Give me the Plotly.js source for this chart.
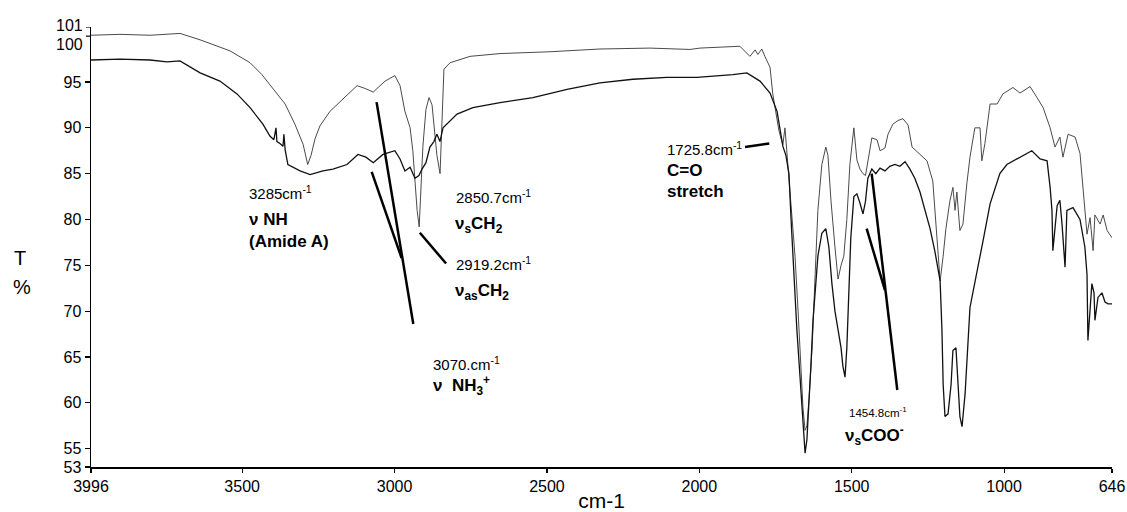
<!DOCTYPE html>
<html>
<head>
<meta charset="utf-8">
<script src="https://cdn.plot.ly/plotly-3.0.1.min.js"></script>
<style>
  html, body { margin: 0; padding: 0; background: #fff; }
  #chart { width: 1127px; height: 512px; }
</style>
</head>
<body>
<div id="chart"></div>
<script>
// FTIR transmittance spectra, wavenumber (cm-1) vs transmittance (%)
const wnUpper = [3996,3901,3802,3704,3638,3589,3540,3474,3435,3409,
  3359,3327,3300,3285,3274,3261,3245,3212,3163,3123,
  3097,3070,3054,3031,2999,2982,2966,2949,2940,2933,
  2926,2919.2,2913,2907,2897,2887,2877,2869,2861,2850.7,
  2844,2838,2818,2752,2654,2490,2326,2162,2031,1998,
  1932,1867,1834,1817,1808,1795,1785,1768,1759,1749,
  1739,1729,1725.8,1719,1709,1699,1686,1676,1666,1660,
  1653,1647,1640,1630,1620,1611,1598,1585,1578,1568,
  1555,1545,1535,1526,1516,1506,1493,1483,1473,1463,
  1454.8,1444,1434,1417,1407,1391,1381,1365,1348,1332,
  1315,1302,1289,1276,1253,1234,1220,1210,1200,1191,
  1178,1168,1161,1155,1145,1135,1122,1112,1096,1079,
  1073,1063,1046,1023,1004,971,948,915,892,872,
  849,833,817,807,790,767,751,741,728,718,
  708,702,685,675,662,646];
const tUpper = [100.1,100.2,100.1,100.3,99.6,99.0,98.4,97.1,95.8,94.7,
  92.6,90.4,88.2,86.0,87.0,88.8,90.2,91.8,93.3,94.6,
  94.3,93.9,94.4,95.1,95.7,94.6,91.8,90.0,87.5,84.0,
  81.0,79.2,83.0,88.0,92.0,93.3,92.5,89.5,87.0,85.0,
  92.0,96.4,97.1,97.8,98.1,98.3,98.6,98.7,98.55,98.7,
  98.8,98.9,97.8,98.5,98.0,98.6,97.8,96.6,93.7,91.8,
  89.7,88.5,88.2,90.0,86.0,82.0,76.0,70.0,64.0,59.5,
  57.0,57.5,60.5,66.0,74.0,81.0,86.0,87.9,87.0,82.0,
  77.0,73.5,75.0,76.0,80.0,86.0,90.0,86.5,85.5,85.0,
  84.8,87.0,88.9,88.7,87.5,87.8,89.3,90.4,90.8,91.0,
  90.3,87.9,87.5,87.2,86.4,84.2,78.0,73.3,76.0,79.0,
  82.0,83.5,81.0,83.0,78.8,79.5,84.0,86.8,90.0,90.0,
  86.4,88.3,92.6,92.6,93.7,94.4,93.8,94.5,93.3,92.2,
  90.0,87.9,89.0,86.8,89.3,89.0,87.2,83.5,78.4,80.2,
  76.6,80.5,79.5,80.5,78.8,78.0];

const wnLower = [3996,3901,3802,3747,3704,3638,3573,3517,3474,3432,
  3409,3396,3389,3386,3376,3366,3363,3359,3350,3327,
  3310,3277,3235,3202,3156,3120,3094,3070,3038,2999,
  2982,2966,2949,2933,2920,2910,2897,2884,2871,2861,
  2851,2841,2795,2743,2654,2546,2434,2326,2218,2106,
  2008,1890,1844,1801,1768,1745,1735,1726,1716,1706,
  1699,1690,1680,1670,1663,1657,1653,1647,1640,1634,
  1627,1620,1611,1598,1585,1575,1565,1555,1545,1535,
  1529,1522,1516,1509,1503,1493,1483,1473,1463,1454.8,
  1447,1434,1421,1407,1391,1375,1358,1342,1325,1309,
  1293,1276,1260,1243,1227,1217,1210,1204,1200,1194,
  1184,1174,1168,1158,1151,1145,1138,1128,1112,1089,
  1069,1046,1014,991,948,909,882,859,849,843,
  840,826,817,810,800,794,774,751,735,728,
  725,712,705,702,692,679,669,659,646];
const tLower = [97.4,97.5,97.4,97.2,97.3,96.0,95.1,93.7,92.2,90.4,
  89.1,88.7,90.0,88.5,88.3,88.0,89.3,87.6,86.0,85.6,
  85.3,84.9,85.3,85.5,86.0,87.1,86.8,86.2,87.1,87.5,
  86.6,85.3,85.7,84.5,84.8,85.5,86.2,87.9,88.5,89.3,
  88.5,90.0,91.5,92.2,92.75,93.3,94.2,94.9,95.3,95.5,
  95.5,95.8,96.0,95.1,93.8,91.8,89.7,88.0,87.0,85.0,
  80.0,74.0,68.0,63.0,59.0,55.5,54.5,56.0,60.0,64.0,
  69.0,72.0,76.0,78.5,79.0,77.0,73.0,70.0,68.0,66.0,
  64.0,62.8,66.0,72.0,78.0,82.5,82.8,81.8,80.6,82.0,
  84.5,85.5,85.0,85.6,85.3,85.8,86.0,85.8,86.3,85.5,
  84.5,83.0,81.0,79.0,76.5,74.5,73.3,68.0,62.0,58.5,
  58.8,62.0,65.7,66.0,62.0,58.5,57.4,61.0,70.4,74.1,
  77.7,81.7,85.0,86.0,86.8,87.5,86.6,86.4,83.5,81.0,
  76.6,81.5,82.1,79.5,74.8,81.0,81.3,80.0,77.0,74.0,
  66.8,73.0,72.0,69.0,71.5,72.0,71.0,70.8,70.8];

const xTicks = [3996, 3500, 3000, 2500, 2000, 1500, 1000, 646];
const yTicks = [53, 55, 60, 65, 70, 75, 80, 85, 90, 95];
// 100 and 101 sit only one unit apart, so their labels are spread a little
const yTopTicks = [100, 101];
const yTopText = ['100', '101'];

const FONT = 'Liberation Sans, Arial, Helvetica, sans-serif';

const traces = [
  { x: wnUpper, y: tUpper, type: 'scatter', mode: 'lines',
    line: { color: '#4a4a4a', width: 1 }, hoverinfo: 'x+y' },
  { x: wnLower, y: tLower, type: 'scatter', mode: 'lines',
    line: { color: '#111', width: 1.3 }, hoverinfo: 'x+y' }
];

// leader lines from the band labels to the curves (data coordinates)
const leaders = [
  [3059, 92.8, 2938.5, 68.6],
  [3075, 85.2, 2977, 75.8],
  [2917, 78.55, 2831, 75.2],
  [1850, 87.9, 1770.5, 88.3],
  [1434.5, 85.0, 1350.5, 61.4],
  [1451, 79.0, 1391, 72.3]
];
const shapes = leaders.map(([x0, y0, x1, y1]) => ({
  type: 'line', xref: 'x', yref: 'y', x0, y0, x1, y1,
  line: { color: '#000', width: 2.5 }
}));
// tick marks for the two top values, same style as the axis ticks
yTopTicks.forEach(v => shapes.push({
  type: 'line', xref: 'paper', yref: 'y', x0: -5 / 1021, x1: 0, y0: v, y1: v,
  line: { color: '#000', width: 1.2 }
}));

function label(x, y, text, size) {
  return { xref: 'x', yref: 'y', x, y, text, showarrow: false,
    xanchor: 'left', yanchor: 'middle',
    font: { family: FONT, size, color: '#000' } };
}
const annotations = [
  label(3484, 82.9, '3285cm<sup>-1</sup>', 15),
  label(3484, 80.0, '<b>ν NH</b>', 17),
  label(3484, 77.6, '<b>(Amide A)</b>', 17),
  label(2805, 82.55, '2850.7cm<sup>-1</sup>', 15),
  label(2808, 79.4, '<b>ν<sub>s</sub>CH<sub>2</sub></b>', 17),
  label(2805, 75.2, '2919.2cm<sup>-1</sup>', 15),
  label(2808, 72.1, '<b>ν<sub>as</sub>CH<sub>2</sub></b>', 17),
  label(2880, 64.3, '3070.cm<sup>-1</sup>', 15),
  label(2880, 61.9, '<b>ν  NH<sub>3</sub><sup>+</sup></b>', 17),
  label(2113, 87.7, '1725.8cm<sup>-1</sup>', 15),
  label(2113, 85.4, '<b>C=O</b>', 17),
  label(2113, 83.1, '<b>stretch</b>', 17),
  label(1516, 59.0, '1454.8cm<sup>-1</sup>', 11.5),
  label(1529, 56.4, '<b>ν<sub>s</sub>COO<sup>-</sup></b>', 17),
  // labels for the 100 and 101 ticks (paper y so the top one is not clipped)
  { xref: 'paper', yref: 'paper', x: 0, y: (99.1 - 53) / 48, xshift: -6, text: yTopText[0],
    showarrow: false, xanchor: 'right', yanchor: 'middle',
    font: { family: FONT, size: 16, color: '#000' } },
  { xref: 'paper', yref: 'paper', x: 0, y: (101.2 - 53) / 48, xshift: -6, text: yTopText[1],
    showarrow: false, xanchor: 'right', yanchor: 'middle',
    font: { family: FONT, size: 16, color: '#000' } },
  // y axis caption
  { xref: 'paper', yref: 'y', x: -0.0695, y: 75.8, text: 'T',
    showarrow: false, xanchor: 'center', yanchor: 'middle',
    font: { family: FONT, size: 20, color: '#000' } },
  { xref: 'paper', yref: 'y', x: -0.068, y: 72.6, text: '%',
    showarrow: false, xanchor: 'center', yanchor: 'middle',
    font: { family: FONT, size: 20, color: '#000' } }
];

const layout = {
  width: 1127, height: 512,
  margin: { l: 91, r: 15, t: 27, b: 45 },
  paper_bgcolor: '#fff', plot_bgcolor: '#fff',
  showlegend: false,
  font: { family: FONT, size: 16, color: '#000' },
  xaxis: {
    range: [3996, 646], tickmode: 'array', tickvals: xTicks,
    ticktext: xTicks.map(String),
    ticks: 'outside', ticklen: 4, tickwidth: 1.2, tickcolor: '#000',
    showline: true, linecolor: '#000', linewidth: 1.5,
    showgrid: false, zeroline: false, automargin: false,
    tickfont: { family: FONT, size: 16, color: '#000' },
    title: { text: 'cm-1', font: { family: FONT, size: 21, color: '#000' }, standoff: 2 }
  },
  yaxis: {
    range: [53, 101], tickmode: 'array', tickvals: yTicks,
    ticktext: yTicks.map(String),
    ticks: 'outside', ticklen: 5, tickwidth: 1.2, tickcolor: '#000',
    showline: true, linecolor: '#000', linewidth: 1.5,
    showgrid: false, zeroline: false, automargin: false,
    tickfont: { family: FONT, size: 16, color: '#000' }
  },
  shapes, annotations
};

Plotly.newPlot('chart', traces, layout, { displayModeBar: false, staticPlot: true });
</script>
</body>
</html>
